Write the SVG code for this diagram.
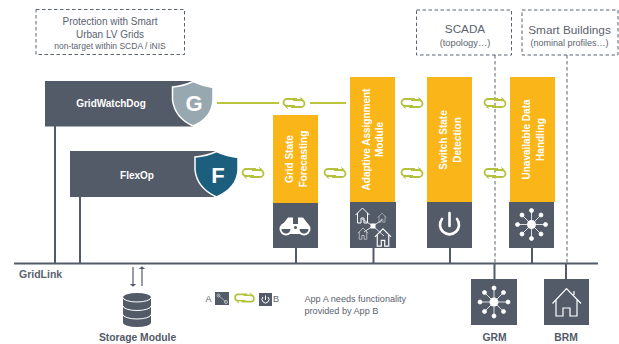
<svg xmlns="http://www.w3.org/2000/svg" xmlns:xlink="http://www.w3.org/1999/xlink" width="619" height="344" viewBox="0 0 619 344">
<style>
text{font-family:"Liberation Sans",Arial,sans-serif;fill:#5b6270}
.bus{stroke:#535a68;stroke-width:2;fill:none}
.dash{fill:none;stroke:#5b6270;stroke-width:1;stroke-dasharray:3.5 2.5}
.dark{fill:#535a68}
.or{fill:#fab619}
.lbl{fill:#fff;font-weight:bold;font-size:10px;text-anchor:middle}
.vl{fill:#fff;font-weight:bold;font-size:10px;text-anchor:middle}
.ttl{font-weight:bold;font-size:10.300px;text-anchor:middle;fill:#535a68}
.ln{stroke:#fff;fill:none;stroke-width:1}
.wf{fill:#fff}
.m{text-anchor:middle}
</style>
<defs>
<g id="lnk" fill="none" stroke="#b4c13c" stroke-width="1.800">
<path d="M3 -4H-7A3.500 3.500 0 0 0 -7 3H1"/>
<path d="M-3 4H7A3.500 3.500 0 0 0 7 -3H-1"/>
<path d="M6 -5.500L8.500 -3.800L6 -2M-6 5.500L-8.500 3.800L-6 2" stroke-width="1"/>
</g>
<g id="star">
<circle r="4.500" fill="#fff"/>
<g stroke="#fff" stroke-width=".8" fill="#fff">
<path d="M-13 0H13M0 -13V13M-9.500 -9.500L9.500 9.500M-9.500 9.500L9.500 -9.500"/>
<circle cx="-14" r="2"/><circle cx="14" r="2"/><circle cy="-14" r="2"/><circle cy="14" r="2"/>
<circle cx="-9.500" cy="-9.500" r="2"/><circle cx="9.500" cy="-9.500" r="2"/><circle cx="-9.500" cy="9.500" r="2"/><circle cx="9.500" cy="9.500" r="2"/>
</g>
</g>
<path id="house" d="M-7 -1L0 -8L7 -1M-5 -3V7H-1.500V2H1.500V7H5V-3"/>
</defs>

<g id="connectors">
<path class="bus" d="M14 263.500H598M55 126V263M80 197V263M296 248V263M373.500 248V263M450 248V263M532 248V263M494.500 263V279M566 263V279"/>
<path class="dash" d="M495 55V263M567 55V263"/>
<path d="M217 103H279M310 103H346" stroke="#b9c63b" stroke-width="2" fill="none"/>
<use xlink:href="#lnk" href="#lnk" x="294" y="103"/>
<use xlink:href="#lnk" href="#lnk" x="412" y="103"/>
<use xlink:href="#lnk" href="#lnk" x="495" y="103"/>
<use xlink:href="#lnk" href="#lnk" x="253" y="173"/>
<use xlink:href="#lnk" href="#lnk" x="335" y="173"/>
<use xlink:href="#lnk" href="#lnk" x="412" y="173"/>
<use xlink:href="#lnk" href="#lnk" x="495" y="173"/>
<path d="M133 267V285" stroke="#535a68" stroke-width="1.200"/><path d="M129.800 284H136.200L133 286.800Z" fill="#535a68"/>
<path d="M142 268V286" stroke="#535a68" stroke-width="1.200"/><path d="M138.800 269H145.200L142 266.200Z" fill="#535a68"/>
</g>

<g id="note-protection">
<rect class="dash" x="36" y="9.500" width="148.500" height="45"/>
<text class="m" x="110" y="25" font-size="10">Protection with Smart</text>
<text class="m" x="110" y="38" font-size="10">Urban LV Grids</text>
<text class="m" x="110" y="49" font-size="8.500">non-target within SCDA / iNIS</text>
</g>

<g id="node-gridwatchdog">
<rect class="dark" x="45" y="81" width="148" height="45.500"/>
<path d="M172.500 87Q184 86 193 81.500Q203 86 213 87.500V100Q212 118 193 126Q175 118 172.500 100Z" fill="#98a8b0" stroke="#fff" stroke-width="1.500"/>
<text class="lbl" x="111" y="107">GridWatchDog</text>
<text x="194" y="111" font-size="22" font-weight="bold" text-anchor="middle" style="fill:#fff">G</text>
</g>

<g id="node-flexop">
<rect class="dark" x="70" y="151" width="147" height="46"/>
<path d="M195 157Q207 156 216.500 151.500Q226 156 238 157.500V170Q237 188 216.500 197Q197 188 195 170Z" fill="#1c5e7d" stroke="#fff" stroke-width="1.500"/>
<text class="lbl" x="137" y="179">FlexOp</text>
<text x="218" y="183" font-size="22" font-weight="bold" text-anchor="middle" style="fill:#fff">F</text>
</g>

<g id="node-forecasting">
<rect class="or" x="273" y="115" width="45" height="88"/>
<rect class="dark" x="273" y="203" width="45" height="45"/>
<text class="vl" transform="translate(293 159) rotate(-90)">Grid State</text>
<text class="vl" transform="translate(307 159) rotate(-90)">Forecasting</text>
<g fill="#fff">
<circle cx="286" cy="229" r="6.500"/><circle cx="304" cy="229" r="6.500"/>
<path d="M283 224L288 217.500H293V224H298V217.500H303L308 224L300 234H290Z"/>
</g>
<path d="M281.500 229A4.500 4.500 0 0 0 290.500 229ZM299.500 229A4.500 4.500 0 0 0 308.500 229Z" fill="#535a68"/>
<circle cx="295.500" cy="227.500" r="1.500" fill="#535a68"/>
</g>

<g id="node-assignment">
<rect class="or" x="350" y="77" width="45" height="125"/>
<rect class="dark" x="350" y="202" width="46" height="46"/>
<text class="vl" transform="translate(370 139.500) rotate(-90)">Adaptive Assignment</text>
<text class="vl" transform="translate(383 139.500) rotate(-90)">Module</text>
<g class="ln">
<path d="M373 226L384 236M373 226L362 219M373 226L382 220M373 226L364 232" stroke-width=".8"/>
<use xlink:href="#house" href="#house" transform="translate(362.500 216)"/>
<use xlink:href="#house" href="#house" transform="translate(383 238) scale(1.150)"/>
<use xlink:href="#house" href="#house" transform="translate(382 218) scale(.6)" stroke="#cfd2d6"/>
<use xlink:href="#house" href="#house" transform="translate(363 234) scale(.75)" stroke="#cfd2d6"/>
</g>
<rect class="wf" x="370.500" y="223.500" width="5" height="5"/>
</g>

<g id="node-switch">
<rect class="or" x="427" y="77" width="45" height="125"/>
<rect class="dark" x="427" y="202" width="45" height="46"/>
<text class="vl" transform="translate(447 140) rotate(-90)">Switch State</text>
<text class="vl" transform="translate(461 140) rotate(-90)">Detection</text>
<path d="M442 219A9.500 9.500 0 1 0 457 219M449.500 213V226" fill="none" stroke="#fff" stroke-width="2.600" stroke-linecap="round"/>
</g>

<g id="node-unavailable">
<rect class="or" x="510" y="77" width="45" height="125"/>
<rect class="dark" x="509" y="202" width="45" height="46"/>
<text class="vl" transform="translate(530 139.500) rotate(-90)">Unavailable Data</text>
<text class="vl" transform="translate(544 139.500) rotate(-90)">Handling</text>
<use xlink:href="#star" href="#star" x="531.500" y="224.500"/>
</g>

<g id="node-scada">
<rect class="dash" x="416.500" y="10" width="95" height="45"/>
<text class="m" x="465" y="33" font-size="11.700">SCADA</text>
<text class="m" x="465" y="46" font-size="9.300">(topology…)</text>
</g>
<g id="node-buildings">
<rect class="dash" x="522" y="10" width="96" height="45"/>
<text class="m" x="569.500" y="34" font-size="11.800">Smart Buildings</text>
<text class="m" x="569.500" y="46" font-size="9">(nominal profiles…)</text>
</g>

<g id="node-grm">
<rect class="dark" x="471" y="279" width="46" height="46"/>
<use xlink:href="#star" href="#star" x="494" y="302"/>
<text class="ttl" x="494.500" y="341">GRM</text>
</g>
<g id="node-brm">
<rect class="dark" x="544" y="279" width="45" height="46"/>
<path d="M552.500 303.500L566.500 288.500L581 303.500M574 291V295M556 300V316H563V308H570V316H577V300" fill="none" stroke="#fff" stroke-width="1.200"/>
<text class="ttl" x="566" y="341">BRM</text>
</g>

<g id="node-gridlink"><text x="19" y="278" font-size="10.500" font-weight="bold">GridLink</text></g>

<g id="node-storage">
<path class="dark" d="M123 297.500A14 4.500 0 0 1 151 297.500V322.500A14 4.500 0 0 1 123 322.500Z"/>
<path d="M123 297.500A14 4.500 0 0 0 151 297.500M123 306A14 4.500 0 0 0 151 306M123 314.500A14 4.500 0 0 0 151 314.500" fill="none" stroke="#fff" stroke-width="1"/>
<text class="ttl" x="137.500" y="341">Storage Module</text>
</g>

<g id="legend">
<text x="205.500" y="302" font-size="9">A</text>
<rect class="dark" x="215" y="292" width="14" height="13"/>
<path d="M218 295L226 302" stroke="#aab" stroke-width="1"/>
<circle cx="218.500" cy="295.500" r="1.500" fill="none" stroke="#bbb"/><circle cx="226" cy="302" r="1.500" fill="none" stroke="#bbb"/>
<use xlink:href="#lnk" href="#lnk" transform="translate(244.500 298) scale(.9)"/>
<rect class="dark" x="259" y="293" width="13" height="13"/>
<path d="M263 297A3.500 3.500 0 1 0 268 297M265.500 295.500V300" fill="none" stroke="#fff" stroke-width="1"/>
<text x="273" y="302" font-size="9">B</text>
<text x="304.500" y="302" font-size="9.100">App A needs functionality</text>
<text x="304.500" y="314" font-size="9.100">provided by App B</text>
</g>
</svg>
